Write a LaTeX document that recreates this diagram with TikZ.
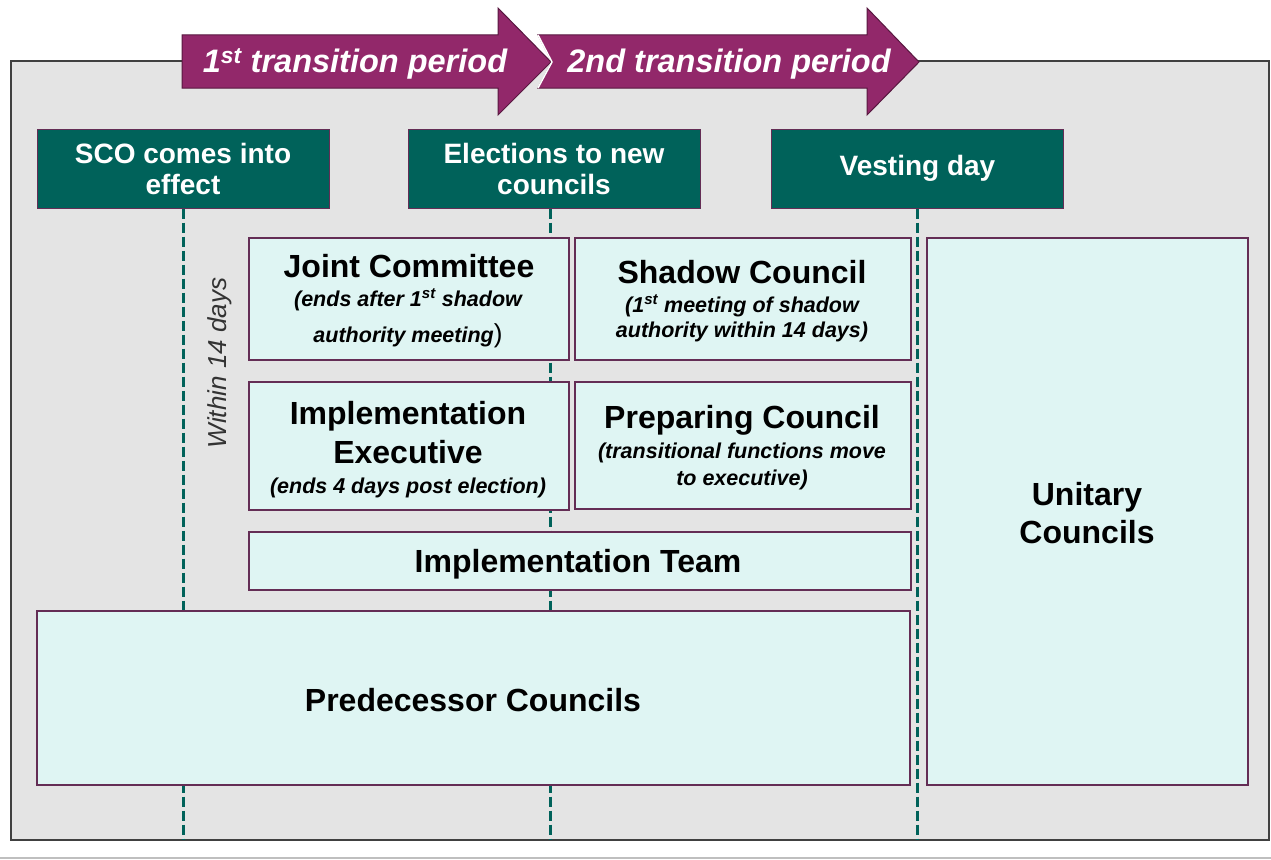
\documentclass[tikz,border=0pt]{standalone}
\usepackage{fontspec}
\setmainfont{Liberation Sans}

\definecolor{prune}{RGB}{146,40,106}
\definecolor{sarcelle}{RGB}{0,98,90}
\definecolor{menthe}{RGB}{223,245,243}
\definecolor{bordure}{RGB}{100,45,85}
\definecolor{fond}{RGB}{228,228,228}

\def\taille#1#2{\fontsize{#1}{#2}\selectfont}

\begin{document}
\begin{tikzpicture}[x=1pt,y=-1pt]
\tikzstyle{cadre}=[draw=black!75,fill=fond,line width=2]
\tikzstyle{periode}=[draw=prune!60!black,fill=prune,line width=1]
\tikzstyle{evenement}=[draw=bordure,fill=sarcelle,line width=1,text=white,font=\bfseries\taille{28}{31},align=center,minimum width=292,minimum height=79,inner sep=0]
\tikzstyle{boite}=[draw=bordure,fill=menthe,line width=2,inner sep=0]
\tikzstyle{titre}=[font=\bfseries\taille{32}{39},align=center,anchor=base,inner sep=0]
\tikzstyle{note}=[font=\bfseries\itshape\taille{21.5}{25},align=center,anchor=base,inner sep=0]
\tikzstyle{pointille}=[sarcelle,line width=3,dash pattern=on 10pt off 4pt]

\useasboundingbox (0,0) rectangle (1271,859);

\draw[cadre] (11,61) rectangle (1269,840);
\draw[black!25,line width=1.5] (0,858) -- (1271,858);

% les deux periodes
\draw[periode] (182,35) -- (498,35) -- (498,8) -- (551,62) -- (498,115) -- (498,88) -- (182,88) -- cycle;
\draw[periode] (538,35) -- (867,35) -- (867,8) -- (919,62) -- (867,115) -- (867,88) -- (538,88) -- (552,62) -- cycle;
\draw[white,line width=1.5] (538,35) -- (552,62) -- (538,88);
\node[text=white,font=\bfseries\itshape\taille{32.5}{32},anchor=base] (p1) at (355,73) {1\textsuperscript{st} transition period};
\node[text=white,font=\bfseries\itshape\taille{32.5}{32},anchor=base] (p2) at (729,73) {2nd transition period};

% dates
\node[evenement] (sco) at (183,168.5) {SCO comes into\\effect};
\node[evenement] (elect) at (554,168.5) {Elections to new\\councils};
\node[evenement] (vest) at (917.5,168.5) {Vesting day};

\coordinate (scobas) at (183,840);
\coordinate (elecbas) at (550,840);
\coordinate (vestbas) at (917,840);
\draw[pointille] (sco) -- (scobas);
\draw[pointille] (elect.south -| elecbas) -- (elecbas);
\draw[pointille] (vest.south -| vestbas) -- (vestbas);

\node[rotate=90,text=black!80,font=\itshape\taille{26}{26}] (delai) at (220,363) {Within 14 days};

% organes (base des textes = derniere ligne)
\node[boite,minimum width=320,minimum height=122] (joint) at (409,299) {};
\node[boite,minimum width=336,minimum height=122] (shadow) at (743,299) {};
\node[boite,minimum width=320,minimum height=128] (impexec) at (409,446) {};
\node[boite,minimum width=336,minimum height=127] (prep) at (743,445.5) {};
\node[boite,minimum width=662,minimum height=58] (impteam) at (580,561) {};
\node[boite,minimum width=873,minimum height=174] (pred) at (473.5,698) {};
\node[boite,minimum width=321,minimum height=547] (unit) at (1087.5,511.5) {};

\node[titre] (jointt) at (409,277) {Joint Committee};
\node[note] (jointn) at (408,342) {(ends after 1\textsuperscript{st} shadow\\[11pt]authority meeting{\mdseries\upshape\taille{26}{26})}};
\node[titre] (shadowt) at (742,283) {Shadow Council};
\node[note] (shadown) at (742,337) {(1\textsuperscript{st} meeting of shadow\\authority within 14 days)};
\node[titre] (impexect) at (408,463) {Implementation\\Executive};
\node[note] (impexecn) at (408,493) {(ends 4 days post election)};
\node[titre] (prept) at (742,428) {Preparing Council};
\node[note] (prepn) at (742,485) {(transitional functions move\\[2pt]to executive)};
\node[titre] (impteamt) at (578,572) {Implementation Team};
\node[titre] (predt) at (473,711) {Predecessor Councils};
\node[titre] (unitt) at (1087,543) {Unitary\\[-1pt]Councils};

\end{tikzpicture}
\end{document}
